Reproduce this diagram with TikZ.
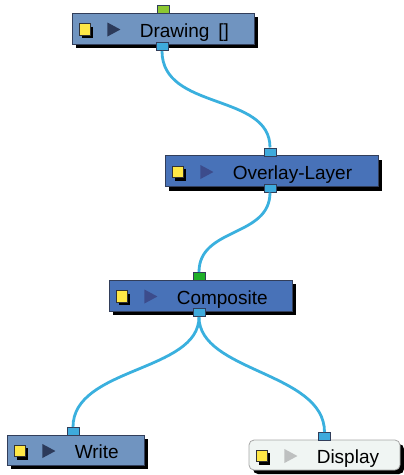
\documentclass[tikz,border=0pt]{standalone}
\usepackage{fontspec}
\setmainfont{Liberation Sans}
\usepackage{tikz}
\usetikzlibrary{
  shapes.geometric, positioning, calc, shadows
}
\definecolor{ModuleBlue}{RGB}{112,148,192}
\definecolor{ModuleDark}{RGB}{72,114,184}
\definecolor{DisplayFill}{RGB}{240,245,243}
\definecolor{BorderGray}{RGB}{50,62,90}
\definecolor{WireBlue}{RGB}{58,176,222}
\definecolor{PortBlue}{RGB}{62,170,220}
\definecolor{PortLime}{RGB}{140,200,50}
\definecolor{PortGreen}{RGB}{30,175,40}
\definecolor{IconYellow}{RGB}{255,232,70}
\definecolor{TriNavy}{RGB}{44,58,90}
\definecolor{TriViolet}{RGB}{60,76,140}
\definecolor{TriGray}{RGB}{190,192,192}

\tikzstyle{module} = [
  rectangle, draw=BorderGray, line width=0.8pt, fill=ModuleBlue,
  minimum height=31pt, inner sep=0pt,
  drop shadow={shadow xshift=4pt, shadow yshift=-4pt, fill=black, opacity=1}
]
\tikzstyle{port} = [
  rectangle, draw=BorderGray, line width=0.6pt, fill=PortBlue,
  minimum width=12pt, minimum height=8pt, inner sep=0pt
]
\tikzstyle{swatch} = [
  rectangle, draw=black!80, line width=0.6pt, fill=IconYellow,
  minimum size=11.5pt, inner sep=0pt,
  drop shadow={shadow xshift=3pt, shadow yshift=-3pt, fill=black, opacity=1}
]
\tikzstyle{play} = [
  isosceles triangle, isosceles triangle stretches,
  minimum width=14pt, minimum height=13pt, inner sep=0pt, fill=TriNavy
]
\tikzstyle{caption} = [anchor=base west, inner sep=0pt, font=\fontsize{19}{21}\selectfont]
\tikzstyle{wire} = [WireBlue, line width=2.8pt]

\begin{document}
\begin{tikzpicture}[x=1pt, y=-1pt]

  \useasboundingbox (0,0) rectangle (404,475);

  % Modules
  \node[module, minimum width=182pt] (drawing) at (163,28.5) {};
  \node[module, minimum width=213pt, fill=ModuleDark] (overlay) at (271.5,171) {};
  \node[module, minimum width=183pt, fill=ModuleDark] (composite) at (200.5,295.5) {};
  \node[module, minimum width=137pt, minimum height=30pt] (write) at (75.5,450) {};
  \node[module, minimum width=151pt, minimum height=30pt, fill=DisplayFill,
        draw=gray!70, rounded corners=5pt] (display) at (324.5,455) {};

  % Icons and texts
  \foreach \m/\tri/\txt in {drawing/TriNavy/{Drawing\hspace{9pt}[]},
                            overlay/TriViolet/Overlay-Layer,
                            composite/TriViolet/Composite,
                            write/TriNavy/Write,
                            display/TriGray/Display} {
    \node[swatch] (\m-swatch) at ([xshift=13pt, yshift=-1pt]\m.west) {};
    \node[play, fill=\tri] (\m-play) at ([xshift=40pt, yshift=-1pt]\m.west) {};
    \node[caption] (\m-text) at ([xshift=68pt, yshift=7pt]\m.south west) {\txt};
  }

  % Ports
  \node[port, anchor=south, fill=PortLime] (drawing-in) at ([yshift=-1pt]drawing.north) {};
  \node[port, anchor=north] (drawing-out) at ([xshift=-1pt, yshift=2pt]drawing.south) {};
  \node[port, anchor=south] (overlay-in) at ([xshift=-1.5pt, yshift=-1pt]overlay.north) {};
  \node[port, anchor=north] (overlay-out) at ([xshift=-1.5pt, yshift=3pt]overlay.south) {};
  \node[port, anchor=south, fill=PortGreen] (composite-in) at ([xshift=-1.5pt, yshift=-1pt]composite.north) {};
  \node[port, anchor=north] (composite-out) at ([xshift=-1.5pt, yshift=3pt]composite.south) {};
  \node[port, anchor=south] (write-in) at ([xshift=-2.5pt, yshift=-1pt]write.north) {};
  \node[port, anchor=south] (display-in) at ([yshift=-1pt]display.north) {};

  % Wires
  \draw[wire] (drawing-out.south) .. controls +(0pt,-60pt) and +(0pt,55pt) .. (overlay-in.north);
  \draw[wire] (overlay-out.south) .. controls +(0pt,-45pt) and +(0pt,45pt) .. (composite-in.north);
  \draw[wire] (composite-out.south) .. controls +(0pt,-55pt) and +(0pt,60pt) .. (write-in.north);
  \draw[wire] (composite-out.south) .. controls +(0pt,-55pt) and +(0pt,60pt) .. (display-in.north);

\end{tikzpicture}
\end{document}
